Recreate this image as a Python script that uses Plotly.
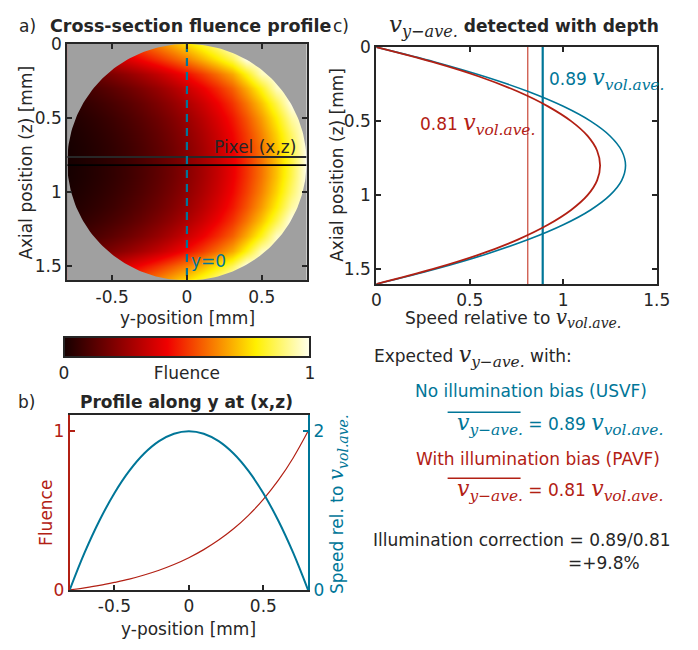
import numpy as np
import plotly.graph_objects as go

# ---------------- data (read / estimated from the reference) ----------------
# a) cross-section fluence map (rows: z_grid, columns: y_grid)
y_grid = [-0.8, -0.7, -0.6, -0.5, -0.4, -0.3, -0.2, -0.1, 0.0,
          0.1, 0.2, 0.3, 0.4, 0.5, 0.6, 0.7, 0.8]
z_grid = [0.0, 0.1, 0.2, 0.3, 0.4, 0.5, 0.6, 0.7, 0.8,
          0.9, 1.0, 1.1, 1.2, 1.3, 1.4, 1.5, 1.6]
fluence_map = [
    [0.334, 0.373, 0.413, 0.459, 0.508, 0.562, 0.620, 0.684, 0.753, 0.828, 0.909, 1, 1, 1, 1, 1, 1],
    [0.232, 0.266, 0.303, 0.343, 0.388, 0.437, 0.492, 0.552, 0.616, 0.691, 0.772, 0.861, 1, 1, 1, 1, 1],
    [0.117, 0.143, 0.172, 0.205, 0.242, 0.284, 0.330, 0.384, 0.443, 0.510, 0.586, 0.671, 0.800, 0.952, 1, 1, 1],
    [0.064, 0.086, 0.110, 0.138, 0.170, 0.207, 0.248, 0.296, 0.351, 0.413, 0.484, 0.565, 0.677, 0.807, 0.960, 1, 1],
    [0.035, 0.053, 0.075, 0.100, 0.128, 0.161, 0.200, 0.243, 0.294, 0.352, 0.420, 0.498, 0.598, 0.715, 0.852, 1, 1],
    [0.018, 0.034, 0.053, 0.076, 0.103, 0.134, 0.169, 0.210, 0.258, 0.314, 0.379, 0.454, 0.546, 0.655, 0.782, 0.930, 1],
    [0.007, 0.023, 0.041, 0.062, 0.087, 0.116, 0.150, 0.190, 0.236, 0.290, 0.353, 0.427, 0.515, 0.618, 0.739, 0.879, 1],
    [0.001, 0.016, 0.033, 0.053, 0.077, 0.106, 0.139, 0.177, 0.223, 0.276, 0.338, 0.411, 0.497, 0.596, 0.713, 0.850, 1],
    [0.000, 0.015, 0.032, 0.052, 0.076, 0.104, 0.137, 0.175, 0.220, 0.273, 0.334, 0.406, 0.491, 0.590, 0.706, 0.841, 1],
    [0.001, 0.016, 0.033, 0.053, 0.077, 0.106, 0.139, 0.177, 0.223, 0.276, 0.338, 0.411, 0.497, 0.596, 0.713, 0.850, 1],
    [0.007, 0.023, 0.041, 0.062, 0.087, 0.116, 0.150, 0.190, 0.236, 0.290, 0.353, 0.427, 0.515, 0.618, 0.739, 0.879, 1],
    [0.018, 0.034, 0.053, 0.076, 0.103, 0.134, 0.169, 0.210, 0.258, 0.314, 0.379, 0.454, 0.546, 0.655, 0.782, 0.930, 1],
    [0.035, 0.053, 0.075, 0.100, 0.128, 0.161, 0.200, 0.243, 0.294, 0.352, 0.420, 0.498, 0.598, 0.715, 0.852, 1, 1],
    [0.064, 0.086, 0.110, 0.138, 0.170, 0.207, 0.248, 0.296, 0.351, 0.413, 0.484, 0.565, 0.677, 0.807, 0.960, 1, 1],
    [0.117, 0.143, 0.172, 0.205, 0.242, 0.284, 0.330, 0.384, 0.443, 0.510, 0.586, 0.671, 0.800, 0.952, 1, 1, 1],
    [0.232, 0.266, 0.303, 0.343, 0.388, 0.437, 0.492, 0.552, 0.616, 0.691, 0.772, 0.861, 1, 1, 1, 1, 1],
    [0.334, 0.373, 0.413, 0.459, 0.508, 0.562, 0.620, 0.684, 0.753, 0.828, 0.909, 1, 1, 1, 1, 1, 1],
]
vessel_radius = 0.8
vessel_center_z = 0.8
pixel_row_z = [0.765, 0.82]
y_zero = 0.0

# b) profile along y at pixel (x,z)
profile_y = [-0.8, -0.7, -0.6, -0.5, -0.4, -0.3, -0.2, -0.1, 0.0,
             0.1, 0.2, 0.3, 0.4, 0.5, 0.6, 0.7, 0.8]
profile_fluence = [0.0, 0.013, 0.028, 0.047, 0.068, 0.094, 0.124, 0.160, 0.203,
                   0.254, 0.314, 0.385, 0.470, 0.571, 0.690, 0.832, 1.0]
profile_speed = [0.0, 0.469, 0.875, 1.219, 1.5, 1.719, 1.875, 1.969, 2.0,
                 1.969, 1.875, 1.719, 1.5, 1.219, 0.875, 0.469, 0.0]

# c) y-averaged speed with depth
depth_z = [0.0, 0.1, 0.2, 0.3, 0.4, 0.5, 0.6, 0.7, 0.8,
           0.9, 1.0, 1.1, 1.2, 1.3, 1.4, 1.5, 1.6]
speed_usvf = [0.0, 0.3125, 0.583, 0.8125, 1.0, 1.146, 1.25, 1.3125, 1.333,
              1.3125, 1.25, 1.146, 1.0, 0.8125, 0.583, 0.3125, 0.0]
speed_pavf = [0.0, 0.300, 0.553, 0.757, 0.918, 1.042, 1.130, 1.181, 1.197,
              1.181, 1.130, 1.042, 0.918, 0.757, 0.553, 0.300, 0.0]
mean_usvf = 0.89
mean_pavf = 0.81
correction_text = "=+9.8%"

# tick labels
ticks_ypos = [-0.5, 0, 0.5]
ticks_ypos_text = ["-0.5", "0", "0.5"]
ticks_depth = [0, 0.5, 1, 1.5]
ticks_depth_text = ["0", "0.5", "1", "1.5"]
ticks_speed = [0, 0.5, 1, 1.5]
ticks_speed_text = ["0", "0.5", "1", "1.5"]
cbar_vals = [0, 0.5, 1]
cbar_text = ["0", "Fluence", "1"]

# ---------------- style ----------------
W, H = 698, 650
TEAL = "rgb(0,118,152)"
RED = "rgb(178,32,20)"
RED_LIGHT = "rgb(205,85,70)"
DARK = "rgb(38,38,38)"
GRAY = "rgb(160,160,160)"
FONT = "DejaVu Sans"
MATH = "DejaVu Serif"
FS = 17

colorscale = [[0.0, "rgb(22,0,0)"], [0.42, "rgb(240,0,0)"],
              [0.78, "rgb(255,240,0)"], [1.0, "rgb(255,255,238)"]]


def px(x):
    return x / W


def py(y):
    return 1 - y / H


def mv(sub, size=22):
    return (f'<span style="font-family:{MATH};font-size:{size}px"><i>v<sub>{sub}</sub></i></span>')


fig = go.Figure()

# ---- a) heatmap ----
fig.add_trace(go.Heatmap(
    x=y_grid, y=z_grid, z=fluence_map, zmin=0, zmax=1, zsmooth="best",
    colorscale=colorscale, xaxis="x", yaxis="y", hoverinfo="skip",
    colorbar=dict(orientation="h", x=px(187), xanchor="center", y=py(337), yanchor="top",
                  len=246, lenmode="pixels", thickness=20, xpad=0, ypad=0,
                  outlinewidth=2, outlinecolor=DARK, tickvals=cbar_vals, ticktext=cbar_text,
                  ticks="", tickfont=dict(family=FONT, size=FS, color=DARK)),
))

# gray mask outside the vessel (rectangle with a circular hole)
theta = np.linspace(np.pi, -np.pi, 241)
circ_y = vessel_radius * np.cos(theta)
circ_z = vessel_center_z + vessel_radius * np.sin(theta)
ext = 0.3
mask_x = [-vessel_radius - ext, -vessel_radius - ext, vessel_radius + ext,
          vessel_radius + ext, -vessel_radius - ext, -vessel_radius - ext] + list(circ_y) + [-vessel_radius - ext]
mask_y = [vessel_center_z, -ext, -ext, 2 * vessel_center_z + ext, 2 * vessel_center_z + ext,
          vessel_center_z] + list(circ_z) + [vessel_center_z]
fig.add_trace(go.Scatter(x=mask_x, y=mask_y, mode="lines", fill="toself", fillcolor=GRAY,
                         line=dict(width=0, color=GRAY), xaxis="x", yaxis="y", hoverinfo="skip"))

# pixel row lines
for zr, col in zip(pixel_row_z, ["rgb(40,40,40)", "rgb(0,0,0)"]):
    fig.add_trace(go.Scatter(x=[-vessel_radius, vessel_radius], y=[zr, zr], mode="lines",
                             line=dict(color=col, width=1.8), xaxis="x", yaxis="y", hoverinfo="skip"))
# y = 0 dashed line
fig.add_trace(go.Scatter(x=[y_zero, y_zero], y=[0, 2 * vessel_center_z], mode="lines",
                         line=dict(color=TEAL, width=2.2, dash="8px,6px"),
                         xaxis="x", yaxis="y", hoverinfo="skip"))

# ---- c) speed with depth ----
fig.add_trace(go.Scatter(x=[mean_pavf, mean_pavf], y=[0, 1.6], mode="lines",
                         line=dict(color=RED_LIGHT, width=1.3), xaxis="x2", yaxis="y2"))
fig.add_trace(go.Scatter(x=[mean_usvf, mean_usvf], y=[0, 1.6], mode="lines",
                         line=dict(color=TEAL, width=2.2), xaxis="x2", yaxis="y2"))
fig.add_trace(go.Scatter(x=speed_usvf, y=depth_z, mode="lines", line=dict(color=TEAL, width=1.6, shape="spline"),
                         xaxis="x2", yaxis="y2"))
fig.add_trace(go.Scatter(x=speed_pavf, y=depth_z, mode="lines", line=dict(color=RED, width=1.8, shape="spline"),
                         xaxis="x2", yaxis="y2"))

# ---- b) profile ----
fig.add_trace(go.Scatter(x=profile_y, y=profile_fluence, mode="lines",
                         line=dict(color=RED, width=1.2, shape="spline"), xaxis="x3", yaxis="y3"))
fig.add_trace(go.Scatter(x=profile_y, y=profile_speed, mode="lines",
                         line=dict(color=TEAL, width=2, shape="spline"), xaxis="x3", yaxis="y4"))

tickfont = dict(family=FONT, size=FS, color=DARK)
common = dict(showgrid=False, zeroline=False, showline=True, linewidth=2, linecolor=DARK,
              ticks="inside", ticklen=5, tickwidth=1.5, tickcolor=DARK, tickfont=tickfont)

fig.update_layout(
    width=W, height=H, margin=dict(l=0, r=0, t=0, b=0),
    paper_bgcolor="white", plot_bgcolor="white", showlegend=False, hovermode=False,
    font=dict(family=FONT, size=FS, color=DARK),
    xaxis=dict(domain=[px(64), px(310)], range=[-0.8, 0.8], anchor="y", mirror="ticks",
               tickvals=ticks_ypos, ticktext=ticks_ypos_text, **common),
    yaxis=dict(domain=[py(279), py(35)], range=[1.6, 0], anchor="x", mirror="ticks",
               tickvals=ticks_depth, ticktext=ticks_depth_text, **common),
    xaxis2=dict(domain=[px(381.7), px(670)], range=[0, 1.5], anchor="y2", mirror="ticks",
                tickvals=ticks_speed, ticktext=ticks_speed_text, **common),
    yaxis2=dict(domain=[py(282.7), py(38.3)], range=[1.6, 0], anchor="x2", mirror="ticks",
                tickvals=ticks_depth, ticktext=ticks_depth_text, **common),
    xaxis3=dict(domain=[px(66.5), px(311.5)], range=[-0.8, 0.8], anchor="y3", mirror=True,
                tickvals=ticks_ypos, ticktext=ticks_ypos_text, **common),
    yaxis3=dict(domain=[py(598.3), py(418.3)], range=[0, 1.1], anchor="x3",
                tickvals=[0, 1], ticktext=["0", "1"],
                **{**common, "linecolor": RED, "tickcolor": RED,
                   "tickfont": dict(family=FONT, size=FS, color=RED)}),
    yaxis4=dict(domain=[py(598.3), py(418.3)], range=[0, 2.2], anchor="x3", overlaying="y3", side="right",
                tickvals=[0, 2], ticktext=["0", "2"],
                **{**common, "linecolor": TEAL, "tickcolor": TEAL,
                   "tickfont": dict(family=FONT, size=FS, color=TEAL)}),
)

anns = []


def ann(text, x, y, color=DARK, size=FS, xanchor="center", yanchor="middle", angle=0, ref=None):
    if ref is None:
        d = dict(xref="paper", yref="paper", x=px(x), y=py(y))
    else:
        d = dict(xref=ref[0], yref=ref[1], x=x, y=y)
    d.update(text=text, showarrow=False, xanchor=xanchor, yanchor=yanchor, textangle=angle,
             font=dict(family=FONT, size=size, color=color))
    anns.append(d)


# titles
ann("a)", 23, 17)
ann("<b>Cross-section fluence profile</b>", 190.5, 17, size=17.5)
ann("c)", 345, 17)
ann(mv("y−ave.", 23) + "<b> detected with depth</b>", 393, 17, xanchor="left")
ann("b)", 22, 404)
ann("<b>Profile along y at (x,z)</b>", 187, 404)

# axis titles
ann("y-position [mm]", 188, 318)
ann("Axial position (z) [mm]", 22, 157, angle=-90)
ann("Speed relative to " + mv("vol.ave.", 20), 409, 318, xanchor="left")
ann("Axial position (z) [mm]", 341, 160, angle=-90)
ann("y-position [mm]", 189, 639)
ann("Fluence", 42, 519, color=RED, angle=-90)
ann("Speed rel. to " + mv("vol.ave.", 20), 342, 510, color=TEAL, angle=-90)

# in-plot labels
ann("Pixel (x,z)", 0.456, 0.70, ref=("x", "y"))
ann("y=0", 0.145, 1.47, color=TEAL, ref=("x", "y"))
ann(f"{mean_usvf:.2f} " + mv("vol.ave."), 0.915, 0.22, color=TEAL, xanchor="left", ref=("x2", "y2"))
ann(f"{mean_pavf:.2f} " + mv("vol.ave."), 0.222, 0.52, color=RED, xanchor="left", ref=("x2", "y2"))

# text block
ann("Expected " + mv("y−ave.") + " with:", 377, 358, xanchor="left")
ann("No illumination bias (USVF)", 662, 393, color=TEAL, xanchor="right")
ann(mv("y−ave.") + f" = {mean_usvf:.2f} " + mv("vol.ave."), 678, 428, color=TEAL, xanchor="right")
ann("With illumination bias (PAVF)", 675, 463, color=RED, xanchor="right")
ann(mv("y−ave.") + f" = {mean_pavf:.2f} " + mv("vol.ave."), 678, 496, color=RED, xanchor="right")
ann(f"Illumination correction = {mean_usvf:.2f}/{mean_pavf:.2f}", 376, 547, xanchor="left")
ann(correction_text, 577, 571, xanchor="left")

fig.update_layout(annotations=anns)

# overlines on the averaged-speed symbols
fig.add_shape(type="line", xref="paper", yref="paper", x0=px(455), x1=px(530), y0=py(415), y1=py(415),
              line=dict(color=TEAL, width=1.5))
fig.add_shape(type="line", xref="paper", yref="paper", x0=px(455), x1=px(530), y0=py(483), y1=py(483),
              line=dict(color=RED, width=1.5))

fig.write_html("out.html")
